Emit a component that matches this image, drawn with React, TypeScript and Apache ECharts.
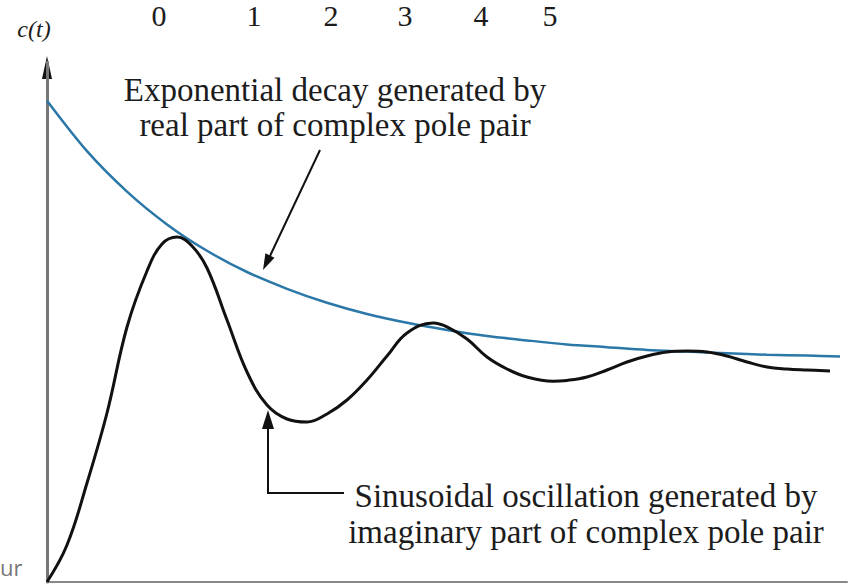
import React, { useEffect, useRef } from "react";
import * as echarts from "echarts";

// time positions (arbitrary units) and values
const decayT = [0, 0.4, 0.8, 1.2, 1.6, 2.0, 2.4, 2.8, 3.2, 3.6, 4.0, 4.4, 4.8, 5.2, 5.6, 6.0, 6.4, 6.8, 7.2, 7.6, 7.93];
const decayC = [1.203, 1.077, 0.976, 0.894, 0.828, 0.775, 0.733, 0.698, 0.67, 0.648, 0.63, 0.615, 0.604, 0.594, 0.587, 0.58, 0.576, 0.572, 0.568, 0.566, 0.564];

const respT = [0, 0.2, 0.4, 0.6, 0.8, 1.0, 1.15, 1.3, 1.45, 1.6, 1.8, 2.0, 2.2, 2.4, 2.6, 2.8, 3.0, 3.2, 3.4, 3.6, 3.86, 4.0, 4.2, 4.4, 4.6, 4.8, 5.06, 5.2, 5.4, 5.6, 5.8, 6.0, 6.2, 6.4, 6.6, 6.8, 7.0, 7.2, 7.4, 7.6, 7.83];
const respC = [0, 0.0925, 0.2475, 0.4225, 0.6375, 0.7775, 0.845, 0.8625, 0.84, 0.785, 0.655, 0.525, 0.4425, 0.4075, 0.4, 0.42, 0.455, 0.505, 0.565, 0.6225, 0.6475, 0.638, 0.6075, 0.5625, 0.5325, 0.5125, 0.502, 0.504, 0.5125, 0.53, 0.55, 0.565, 0.575, 0.5775, 0.575, 0.565, 0.55, 0.5375, 0.5325, 0.53, 0.5275];

const topDigits = ["0", "1", "2", "3", "4", "5"];
const digitX = [159, 254, 331, 405, 481, 550];

const note1 = ["Exponential decay generated by", "real part of complex pole pair"];
const note2 = ["Sinusoidal oscillation generated by", "imaginary part of complex pole pair"];

export default function App() {
  const ref = useRef<HTMLDivElement>(null);
  useEffect(() => {
    if (!ref.current) return;
    const chart = echarts.init(ref.current, null, { renderer: "svg" });
    const serif = "'Times New Roman', 'Liberation Serif', 'DejaVu Serif', serif";
    const txtColor = "#1c1c1c";
    const graphics: any[] = [];
    topDigits.forEach((d, i) => {
      graphics.push({
        type: "text",
        x: digitX[i],
        y: 15,
        style: { text: d, fontFamily: serif, fontSize: 30, fill: txtColor, align: "center", verticalAlign: "middle" },
      });
    });
    graphics.push({
      type: "text",
      x: 34,
      y: 29,
      style: { text: "c(t)", fontFamily: serif, fontStyle: "italic", fontSize: 24, fill: txtColor, align: "center", verticalAlign: "middle" },
    });
    graphics.push({
      type: "text",
      x: 0,
      y: 567,
      style: { text: "ur", fontFamily: "Open Sans", fontSize: 22, fill: "#777", align: "left", verticalAlign: "middle" },
    });
    note1.forEach((t, i) => {
      graphics.push({
        type: "text",
        x: 335,
        y: 90 + i * 35,
        style: { text: t, fontFamily: serif, fontSize: 33, fill: txtColor, align: "center", verticalAlign: "middle" },
      });
    });
    note2.forEach((t, i) => {
      graphics.push({
        type: "text",
        x: 586,
        y: 496 + i * 36,
        style: { text: t, fontFamily: serif, fontSize: 33, fill: txtColor, align: "center", verticalAlign: "middle" },
      });
    });
    // y-axis arrow head
    graphics.push({
      type: "polygon",
      shape: { points: [[47, 56], [42, 79], [52, 79]] },
      style: { fill: "#111" },
    });
    // arrow 1
    graphics.push({
      type: "line",
      shape: { x1: 320, y1: 150, x2: 270, y2: 256 },
      style: { stroke: "#111", lineWidth: 2 },
    });
    graphics.push({
      type: "polygon",
      shape: { points: [[263, 270], [274.5, 257.7], [265.4, 253.3]] },
      style: { fill: "#111" },
    });
    // arrow 2
    graphics.push({
      type: "polyline",
      shape: { points: [[344, 493], [268, 493], [268, 426]] },
      style: { stroke: "#111", lineWidth: 2, fill: null },
    });
    graphics.push({
      type: "polygon",
      shape: { points: [[268, 410], [262, 429], [274, 429]] },
      style: { fill: "#111" },
    });

    chart.setOption({
      animation: false,
      backgroundColor: "#fff",
      grid: { left: 47, right: 1, top: 62, bottom: 3 },
      xAxis: {
        type: "value",
        min: 0,
        max: 8,
        axisLine: { show: true, onZero: false, lineStyle: { color: "#888", width: 2 } },
        axisTick: { show: false },
        axisLabel: { show: false },
        splitLine: { show: false },
      },
      yAxis: {
        type: "value",
        min: 0,
        max: 1.3,
        axisLine: { show: true, onZero: false, lineStyle: { color: "#777", width: 3 } },
        axisTick: { show: false },
        axisLabel: { show: false },
        splitLine: { show: false },
      },
      series: [
        {
          type: "line",
          data: decayT.map((t, i) => [t, decayC[i]]),
          smooth: 0.3,
          showSymbol: false,
          lineStyle: { color: "#2b78a8", width: 2.5 },
          z: 2,
        },
        {
          type: "line",
          data: respT.map((t, i) => [t, respC[i]]),
          smooth: 0.4,
          showSymbol: false,
          lineStyle: { color: "#111", width: 3 },
          z: 3,
        },
      ],
      graphic: graphics,
    });
    return () => chart.dispose();
  }, []);
  return <div ref={ref} style={{ width: 848, height: 585, position: "absolute", left: 0, top: 0 }} />;
}
